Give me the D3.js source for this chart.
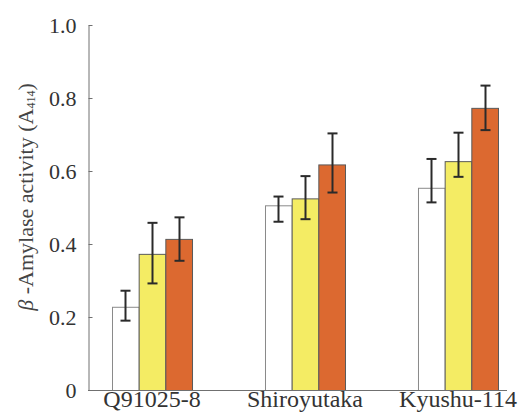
<!DOCTYPE html>
<html>
<head>
<meta charset="utf-8">
<script src="https://cdn.jsdelivr.net/npm/d3@7"></script>
<style>
  html, body { margin: 0; padding: 0; background: #fff; }
  svg { display: block; }
</style>
</head>
<body>
<svg id="chart" width="519" height="414"></svg>
<script>
const categories = ["Q91025-8", "Shiroyutaka", "Kyushu-114"];
const seriesNames = ["s1", "s2", "s3"];
const seriesColors = ["#ffffff", "#f4ec64", "#dc6930"];
const seriesValues = [
  [0.228, 0.506, 0.554],
  [0.373, 0.525, 0.627],
  [0.414, 0.618, 0.773]
];
const errHigh = [
  [0.272, 0.530, 0.633],
  [0.458, 0.586, 0.705],
  [0.473, 0.703, 0.834]
];
const errLow = [
  [0.190, 0.461, 0.514],
  [0.292, 0.468, 0.584],
  [0.354, 0.541, 0.712]
];
const yTicks = [0, 0.2, 0.4, 0.6, 0.8, 1.0];

const svg = d3.select("#chart");
const font = "'Liberation Serif', 'Times New Roman', serif";

const y = d3.scaleLinear().domain([0, 1]).range([390, 25]);
const x = d3.scaleBand().domain(categories).range([112, 498]).paddingInner(0.477).paddingOuter(0);
const xs = d3.scaleBand().domain(seriesNames).range([0, x.bandwidth()]).padding(0);

// bars
const rows = [];
seriesNames.forEach((s, si) => {
  categories.forEach((c, ci) => {
    rows.push({ s, si, c, v: seriesValues[si][ci], hi: errHigh[si][ci], lo: errLow[si][ci] });
  });
});

svg.append("g").selectAll("rect").data(rows).join("rect")
  .attr("x", d => x(d.c) + xs(d.s) + 0.5)
  .attr("y", d => y(d.v) + 0.5)
  .attr("width", xs.bandwidth())
  .attr("height", d => y(0) - y(d.v))
  .attr("fill", d => seriesColors[d.si])
  .attr("stroke", d => d.si === 0 ? "#8a8a8a" : "#5a5a5a")
  .attr("stroke-width", 1);

// error bars
const eg = svg.append("g").attr("stroke", "#2a2a2a").attr("stroke-width", 2).attr("fill", "none");
rows.forEach(d => {
  const cx = Math.round(x(d.c) + xs(d.s) + xs.bandwidth() / 2) + 0.5;
  eg.append("line").attr("x1", cx).attr("x2", cx).attr("y1", y(d.hi)).attr("y2", y(d.lo));
  eg.append("line").attr("x1", cx - 5).attr("x2", cx + 5).attr("y1", y(d.hi)).attr("y2", y(d.hi));
  eg.append("line").attr("x1", cx - 5).attr("x2", cx + 5).attr("y1", y(d.lo)).attr("y2", y(d.lo));
});

// y axis
const yAxis = d3.axisLeft(y)
  .tickValues(yTicks)
  .tickSizeInner(-4)
  .tickSizeOuter(0)
  .tickPadding(12)
  .tickFormat(d => d === 0 ? "0" : d3.format(".1f")(d));

const ya = svg.append("g").attr("transform", "translate(88.5,0)").call(yAxis);
ya.select(".domain").attr("stroke", "#707070").attr("stroke-width", 1);
ya.selectAll(".tick line").attr("stroke", "#707070");
ya.selectAll(".tick text")
  .attr("font-family", font).attr("font-size", 22).attr("fill", "#333")
  .attr("dy", "0.36em");

// baseline
svg.append("line")
  .attr("x1", 88).attr("x2", 507)
  .attr("y1", y(0) + 0.5).attr("y2", y(0) + 0.5)
  .attr("stroke", "#707070").attr("stroke-width", 1);

// x labels
const xAxis = d3.axisBottom(x).tickSize(0).tickPadding(0);
const xa = svg.append("g").attr("transform", "translate(0," + y(0) + ")").call(xAxis);
xa.select(".domain").remove();
xa.selectAll(".tick text")
  .attr("font-family", font).attr("font-size", 24).attr("fill", "#333")
  .attr("y", 17).attr("dy", 0);

// y title
const t = svg.append("text")
  .attr("transform", "translate(33,197) rotate(-90)")
  .attr("text-anchor", "middle")
  .attr("font-family", font).attr("font-size", 22).attr("fill", "#444");
t.append("tspan").attr("font-style", "italic").text("β");
t.append("tspan").text(" -Amylase activity (A");
t.append("tspan").attr("font-size", 12).attr("dy", 2).text("414");
t.append("tspan").attr("dy", -2).text(")");
</script>
</body>
</html>
